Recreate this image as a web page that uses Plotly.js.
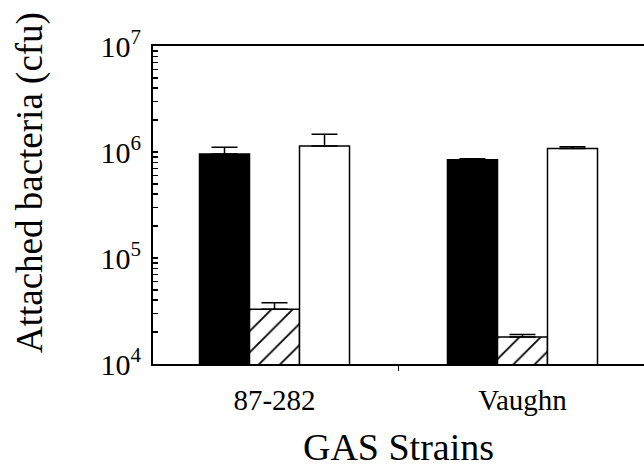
<!DOCTYPE html>
<html>
<head>
<meta charset="utf-8">
<script src="https://cdn.plot.ly/plotly-3.0.1.min.js"></script>
<style>
  html, body { margin: 0; padding: 0; background: #fff; overflow: hidden; }
  #chart { width: 644px; height: 468px; }
</style>
</head>
<body>
<div id="chart"></div>
<script>
// Data
const strains = ["87-282", "Vaughn"];
const seriesBlack = [960000, 845000];
const errBlack = [150000, 20000];
const seriesHatched = [32800, 18000];
const errHatched = [5000, 1000];
const seriesWhite = [1140000, 1080000];
const errWhite = [330000, 40000];

const decadeVals = [1e4, 1e5, 1e6, 1e7];
const decadeLabels = ["10<sup>4</sup>", "10<sup>5</sup>", "10<sup>6</sup>", "10<sup>7</sup>"];
const minorDigits = [2, 3, 4, 5, 6, 7, 8, 9];

// minor log tick positions between decades
const minorVals = [];
for (let d = 0; d < decadeVals.length - 1; d++) {
  for (const m of minorDigits) minorVals.push(decadeVals[d] * m);
}

const errStyle = (arr) => ({
  type: "data", array: arr, arrayminus: arr.map(() => 0), symmetric: false,
  color: "#000", thickness: 1.5, width: 13, visible: true
});

const traces = [
  {
    type: "bar", x: strains, y: seriesBlack, name: "black",
    marker: { color: "#000", line: { color: "#000", width: 1.5 } },
    error_y: errStyle(errBlack)
  },
  {
    type: "bar", x: strains, y: seriesHatched, name: "hatched",
    marker: {
      color: "#fff",
      line: { color: "#000", width: 1.5 },
      pattern: { shape: "/", fgcolor: "#000", bgcolor: "#fff", size: 15, solidity: 0.12 }
    },
    error_y: errStyle(errHatched)
  },
  {
    type: "bar", x: strains, y: seriesWhite, name: "white",
    marker: { color: "#fff", line: { color: "#000", width: 1.5 } },
    error_y: errStyle(errWhite)
  }
];

const serif = "Liberation Serif, Times New Roman, serif";

const layout = {
  width: 644, height: 468,
  margin: { l: 153, r: 0, t: 46, b: 104 },
  paper_bgcolor: "#fff", plot_bgcolor: "#fff",
  showlegend: false,
  barmode: "group", bargap: 0.395, bargroupgap: 0,
  font: { family: serif, color: "#000", size: 30 },
  xaxis: {
    type: "category",
    range: [-0.49, 1.49],
    showline: true, linecolor: "#000", linewidth: 2, mirror: true,
    showgrid: false, zeroline: false,
    ticks: "outside", tickson: "boundaries", ticklen: 5, tickwidth: 1.5, tickcolor: "#000",
    tickfont: { size: 29, family: serif },
    ticklabelstandoff: 9,
    title: { text: "GAS Strains", font: { size: 38 }, standoff: 30 }
  },
  yaxis: {
    type: "log",
    range: [4, 7],
    showline: true, linecolor: "#000", linewidth: 2,
    showgrid: false, zeroline: false,
    tickmode: "array", tickvals: decadeVals, ticktext: decadeLabels,
    ticks: "inside", ticklen: 5, tickwidth: 1.5, tickcolor: "#000",
    tickfont: { size: 30, family: serif },
    ticklabelstandoff: 4,
    minor: {
      tickmode: "array", tickvals: minorVals,
      ticks: "inside", ticklen: 5, tickwidth: 1.5, tickcolor: "#000", showgrid: false
    }
  },
  annotations: [
    {
      text: "Attached bacteria (cfu)",
      xref: "paper", yref: "paper",
      x: 0, xshift: -123, xanchor: "center",
      y: 0.569, yanchor: "middle",
      textangle: -90, showarrow: false,
      font: { size: 37, family: serif, color: "#000" }
    }
  ]
};

Plotly.newPlot("chart", traces, layout, { displayModeBar: false, staticPlot: true });
</script>
</body>
</html>
